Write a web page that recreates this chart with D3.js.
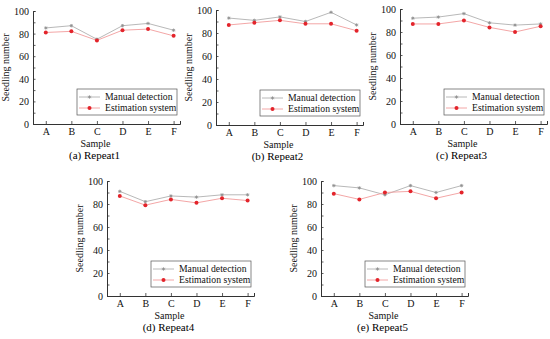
<!DOCTYPE html>
<html>
<head>
<meta charset="utf-8">
<script src="https://cdn.jsdelivr.net/npm/d3@7"></script>
<style>
  body { margin: 0; background: #fff; }
  svg { display: block; font-family: "Liberation Serif", "Times New Roman", serif; }
</style>
</head>
<body>
<div id="graf"></div>
<script>
const samples = ["A", "B", "C", "D", "E", "F"]
const captions = ["(a) Repeat1", "(b) Repeat2", "(c) Repeat3", "(d) Repeat4", "(e) Repeat5"]
const yTicks = [0, 20, 40, 60, 80, 100]
const seriesNames = ["Manual detection", "Estimation system"]

const manual1 = [85, 87, 75, 87, 89, 83]
const estim1 = [81, 82, 74, 83, 84, 78]
const manual2 = [93, 91, 94, 90, 98, 87]
const estim2 = [87, 89, 91, 88, 88, 82]
const manual3 = [92, 93, 96, 88, 86, 87]
const estim3 = [87, 87, 90, 84, 80, 85]
const manual4 = [91, 82, 87, 86, 88, 88]
const estim4 = [87, 79, 84, 81, 85, 83]
const manual5 = [96, 94, 88, 96, 90, 96]
const estim5 = [89, 84, 90, 91, 85, 90]

const manuals = [manual1, manual2, manual3, manual4, manual5]
const estims = [estim1, estim2, estim3, estim4, estim5]

// where each little panel sits (left of y axis, y of 100, y of 0)
const paneles = [
  { left: 33, top: 11, bottom: 124 },
  { left: 216, top: 10, bottom: 125 },
  { left: 400, top: 9, bottom: 124 },
  { left: 107, top: 181, bottom: 296 },
  { left: 321, top: 181, bottom: 296 }
]
const ancho = 147

const colorManual = "#8f8f8f"
const colorManualLine = "#b0b0b0"
const colorEstim = "#e3242b"
const colorEstimLine = "#f29c9c"
const colorEje = "#333"
const colorTexto = "#111"

const svg = d3.select("#graf")
  .append("svg")
  .attr("width", 550)
  .attr("height", 339)

const cruz = (sel, c) => {
  // small asterisk-like marker for manual counts
  sel.append("path")
    .attr("d", "M-1.7,0H1.7M0,-1.7V1.7M-1.2,-1.2L1.2,1.2M-1.2,1.2L1.2,-1.2")
    .attr("stroke", c)
    .attr("stroke-width", 0.8)
}

paneles.forEach((p, i) => {
  const g = svg.append("g").attr("transform", `translate(${p.left}, ${p.top})`)
  const alto = p.bottom - p.top

  const x = d3.scaleLinear().domain([0.5, 6.25]).range([0, ancho])
  const y = d3.scaleLinear().domain([0, 100]).range([alto, 0])

  // minor ticks every 10
  const yAxis = d3.axisLeft(y).tickValues(d3.range(0, 101, 10)).tickSize(-2.5).tickPadding(4)
    .tickFormat((d) => (yTicks.includes(d) ? d : ""))
  const xAxis = d3.axisBottom(x).tickValues(d3.range(1, 7)).tickSize(-3).tickPadding(4)
    .tickFormat((d) => samples[d - 1])

  const gy = g.append("g").call(yAxis)
  const gx = g.append("g").attr("transform", `translate(0, ${alto})`).call(xAxis)
  ;[gx, gy].forEach((ax) => {
    ax.attr("font-family", null).attr("font-size", null)
    ax.select(".domain").attr("stroke", colorEje).attr("stroke-width", 1)
    ax.selectAll(".tick line").attr("stroke", colorEje).attr("stroke-width", 0.8)
    ax.selectAll(".tick text").attr("font-size", 10).attr("fill", colorTexto)
  })
  gy.selectAll(".tick text").attr("dy", "0.34em")

  g.append("g")
    .attr("transform", `translate(-24, ${alto / 2})`)
    .append("text")
    .attr("transform", "rotate(-90)")
    .attr("text-anchor", "middle")
    .attr("font-size", 10)
    .attr("fill", colorTexto)
    .text("Seedling number")

  g.append("text")
    .attr("x", ancho / 2 - 11)
    .attr("y", alto + 23)
    .attr("text-anchor", "middle")
    .attr("font-size", 10)
    .attr("fill", colorTexto)
    .text("Sample")

  g.append("text")
    .attr("x", ancho / 2 - 12)
    .attr("y", alto + 35)
    .attr("text-anchor", "middle")
    .attr("font-size", 11)
    .attr("fill", "#000")
    .text(captions[i])

  const linea = d3.line().x((d, j) => x(j + 1)).y((d) => y(d))

  g.append("path").datum(manuals[i])
    .attr("d", linea)
    .attr("fill", "none")
    .attr("stroke", colorManualLine)
    .attr("stroke-width", 0.9)
  g.append("path").datum(estims[i])
    .attr("d", linea)
    .attr("fill", "none")
    .attr("stroke", colorEstimLine)
    .attr("stroke-width", 0.9)

  g.selectAll(".pm").data(manuals[i]).enter()
    .append("g")
    .attr("class", "pm")
    .attr("transform", (d, j) => `translate(${x(j + 1)}, ${y(d)})`)
    .each(function () { cruz(d3.select(this), colorManual) })

  g.selectAll(".pe").data(estims[i]).enter()
    .append("circle")
    .attr("class", "pe")
    .attr("cx", (d, j) => x(j + 1))
    .attr("cy", (d) => y(d))
    .attr("r", 2)
    .attr("fill", colorEstim)

  // legend
  const leg = g.append("g").attr("transform", `translate(44, ${alto - 35})`)
  leg.append("rect")
    .attr("width", 100)
    .attr("height", 26)
    .attr("fill", "#fff")
    .attr("stroke", "#555")
    .attr("stroke-width", 0.7)
  seriesNames.forEach((s, k) => {
    const yy = 8 + k * 11
    leg.append("line")
      .attr("x1", 2).attr("x2", 23).attr("y1", yy).attr("y2", yy)
      .attr("stroke", k == 0 ? colorManualLine : colorEstimLine)
      .attr("stroke-width", 0.9)
    if (k == 0) {
      cruz(leg.append("g").attr("transform", `translate(12.5, ${yy})`), colorManual)
    } else {
      leg.append("circle").attr("cx", 12.5).attr("cy", yy).attr("r", 2).attr("fill", colorEstim)
    }
    leg.append("text")
      .attr("x", 28)
      .attr("y", yy + 3.3)
      .attr("font-size", 9.7)
      .attr("fill", colorTexto)
      .text(s)
  })
})
</script>
</body>
</html>
